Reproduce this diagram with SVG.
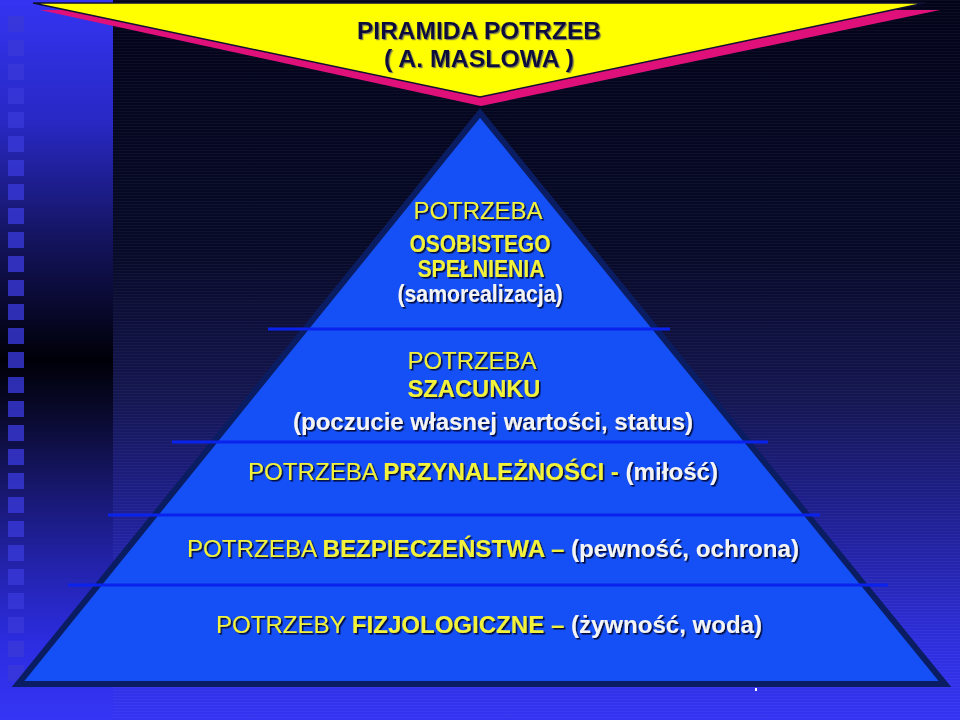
<svg xmlns="http://www.w3.org/2000/svg" width="960" height="720" viewBox="0 0 960 720">
<defs>
<linearGradient id="bgMain" x1="0" y1="0" x2="0" y2="1">
<stop offset="0" stop-color="#03041a"/>
<stop offset="0.35" stop-color="#070a28"/>
<stop offset="0.55" stop-color="#141650"/>
<stop offset="0.75" stop-color="#2222a0"/>
<stop offset="0.9" stop-color="#2f2fe0"/>
<stop offset="1" stop-color="#3434f2"/>
</linearGradient>
<linearGradient id="bgStrip" x1="0" y1="0" x2="0" y2="1">
<stop offset="0" stop-color="#3434f2"/>
<stop offset="0.17" stop-color="#2828c4"/>
<stop offset="0.33" stop-color="#141460"/>
<stop offset="0.5" stop-color="#000008"/>
<stop offset="0.58" stop-color="#0a0a30"/>
<stop offset="0.67" stop-color="#161668"/>
<stop offset="0.78" stop-color="#2222a8"/>
<stop offset="0.89" stop-color="#2c2ce0"/>
<stop offset="1" stop-color="#3535f5"/>
</linearGradient>
<pattern id="scan" width="4" height="3" patternUnits="userSpaceOnUse">
<rect width="4" height="1" fill="#ffffff" fill-opacity="0.035"/>
</pattern>
<filter id="sh" x="-5%" y="-30%" width="110%" height="160%">
<feDropShadow dx="1.6" dy="1.6" stdDeviation="0.5" flood-color="#000020" flood-opacity="0.85"/>
</filter>
<filter id="shT" x="-5%" y="-30%" width="110%" height="160%">
<feDropShadow dx="1.2" dy="1.2" stdDeviation="0.4" flood-color="#606060" flood-opacity="0.8"/>
</filter>
</defs>
<style>
text{font-family:"Liberation Sans",Arial,sans-serif;font-size:24px;text-anchor:middle}
.y{fill:#f2f23a}
.w{fill:#f4f4f4}
.b{font-weight:bold}
.r{font-weight:normal}
.sq{fill:#3838d8;fill-opacity:0.8}
.div{stroke:#0a22ee;stroke-width:3;fill:none}
.title{fill:#10103c;font-weight:bold;font-size:23px}
</style>

<g id="background">
<rect x="0" y="0" width="960" height="720" fill="url(#bgMain)"/>
<rect x="113" y="0" width="847" height="720" fill="url(#scan)"/>
<rect x="0" y="0" width="113" height="720" fill="url(#bgStrip)"/>
<g id="strip-squares">
<rect class="sq" x="8" y="16" width="16" height="16" fill-opacity="0.4"/>
<rect class="sq" x="8" y="40" width="16" height="16"/>
<rect class="sq" x="8" y="64" width="16" height="16"/>
<rect class="sq" x="8" y="88" width="16" height="16"/>
<rect class="sq" x="8" y="112" width="16" height="16"/>
<rect class="sq" x="8" y="136" width="16" height="16"/>
<rect class="sq" x="8" y="160" width="16" height="16"/>
<rect class="sq" x="8" y="184" width="16" height="16"/>
<rect class="sq" x="8" y="208" width="16" height="16"/>
<rect class="sq" x="8" y="232" width="16" height="16"/>
<rect class="sq" x="8" y="256" width="16" height="16"/>
<rect class="sq" x="8" y="280" width="16" height="16"/>
<rect class="sq" x="8" y="304" width="16" height="16"/>
<rect class="sq" x="8" y="328" width="16" height="16"/>
<rect class="sq" x="8" y="352" width="16" height="16"/>
<rect class="sq" x="8" y="377" width="16" height="16"/>
<rect class="sq" x="8" y="401" width="16" height="16"/>
<rect class="sq" x="8" y="425" width="16" height="16"/>
<rect class="sq" x="8" y="449" width="16" height="16"/>
<rect class="sq" x="8" y="473" width="16" height="16"/>
<rect class="sq" x="8" y="497" width="16" height="16"/>
<rect class="sq" x="8" y="521" width="16" height="16"/>
<rect class="sq" x="8" y="545" width="16" height="16"/>
<rect class="sq" x="8" y="569" width="16" height="16"/>
<rect class="sq" x="8" y="593" width="16" height="16"/>
<rect class="sq" x="8" y="617" width="16" height="16"/>
<rect class="sq" x="8" y="641" width="16" height="16"/>
<rect class="sq" x="8" y="665" width="16" height="16" fill-opacity="0.4"/>
</g>
</g>

<g id="title-banner">
<polygon points="40,10 940,10 481,106" fill="#e0107a"/>
<polygon points="33,3 925,3 480,97" fill="#ffff00" stroke="#101030" stroke-width="1.5" stroke-linejoin="miter"/>
<text class="title" x="479" y="39" textLength="244" lengthAdjust="spacingAndGlyphs" filter="url(#shT)">PIRAMIDA POTRZEB</text>
<text class="title" x="479" y="67" textLength="190" lengthAdjust="spacingAndGlyphs" filter="url(#shT)">( A. MASLOWA )</text>
</g>

<g id="pyramid">
<polygon points="480,113 945,684 18,684" fill="#1450f5" stroke="#0b1d62" stroke-width="6" stroke-linejoin="miter"/>
</g>

<g id="connectors">
<line class="div" x1="268" y1="329" x2="670" y2="329"/>
<line class="div" x1="172" y1="442" x2="768" y2="442"/>
<line class="div" x1="108" y1="515" x2="820" y2="515"/>
<line class="div" x1="68" y1="585" x2="888" y2="585"/>
</g>

<g id="level-5-self-actualization" filter="url(#sh)">
<text class="y r" x="478" y="219" textLength="129" lengthAdjust="spacingAndGlyphs">POTRZEBA</text>
<text class="y b" x="480" y="252" font-size="19" textLength="141" lengthAdjust="spacingAndGlyphs">OSOBISTEGO</text>
<text class="y b" x="481" y="277" font-size="19" textLength="127" lengthAdjust="spacingAndGlyphs">SPEŁNIENIA</text>
<text class="w b" x="480" y="302" font-size="20" textLength="165" lengthAdjust="spacingAndGlyphs">(samorealizacja)</text>
</g>

<g id="level-4-esteem" filter="url(#sh)">
<text class="y r" x="472" y="369" textLength="129" lengthAdjust="spacingAndGlyphs">POTRZEBA</text>
<text class="y b" x="474" y="397" textLength="133" lengthAdjust="spacingAndGlyphs">SZACUNKU</text>
<text class="w b" x="493" y="430" textLength="400" lengthAdjust="spacingAndGlyphs">(poczucie własnej wartości, status)</text>
</g>

<g id="level-3-belonging" filter="url(#sh)">
<text x="483" y="480" textLength="470" lengthAdjust="spacingAndGlyphs"><tspan class="y r">POTRZEBA </tspan><tspan class="y b">PRZYNALEŻNOŚCI - </tspan><tspan class="w b">(miłość)</tspan></text>
</g>

<g id="level-2-safety" filter="url(#sh)">
<text x="493" y="557" textLength="612" lengthAdjust="spacingAndGlyphs"><tspan class="y r">POTRZEBA </tspan><tspan class="y b">BEZPIECZEŃSTWA – </tspan><tspan class="w b">(pewność, ochrona)</tspan></text>
</g>

<g id="level-1-physiological" filter="url(#sh)">
<text x="489" y="633" textLength="546" lengthAdjust="spacingAndGlyphs"><tspan class="y r">POTRZEBY </tspan><tspan class="y b">FIZJOLOGICZNE – </tspan><tspan class="w b">(żywność, woda)</tspan></text>
</g>

<rect x="755" y="688" width="2" height="3" fill="#ffffff"/>
</svg>
